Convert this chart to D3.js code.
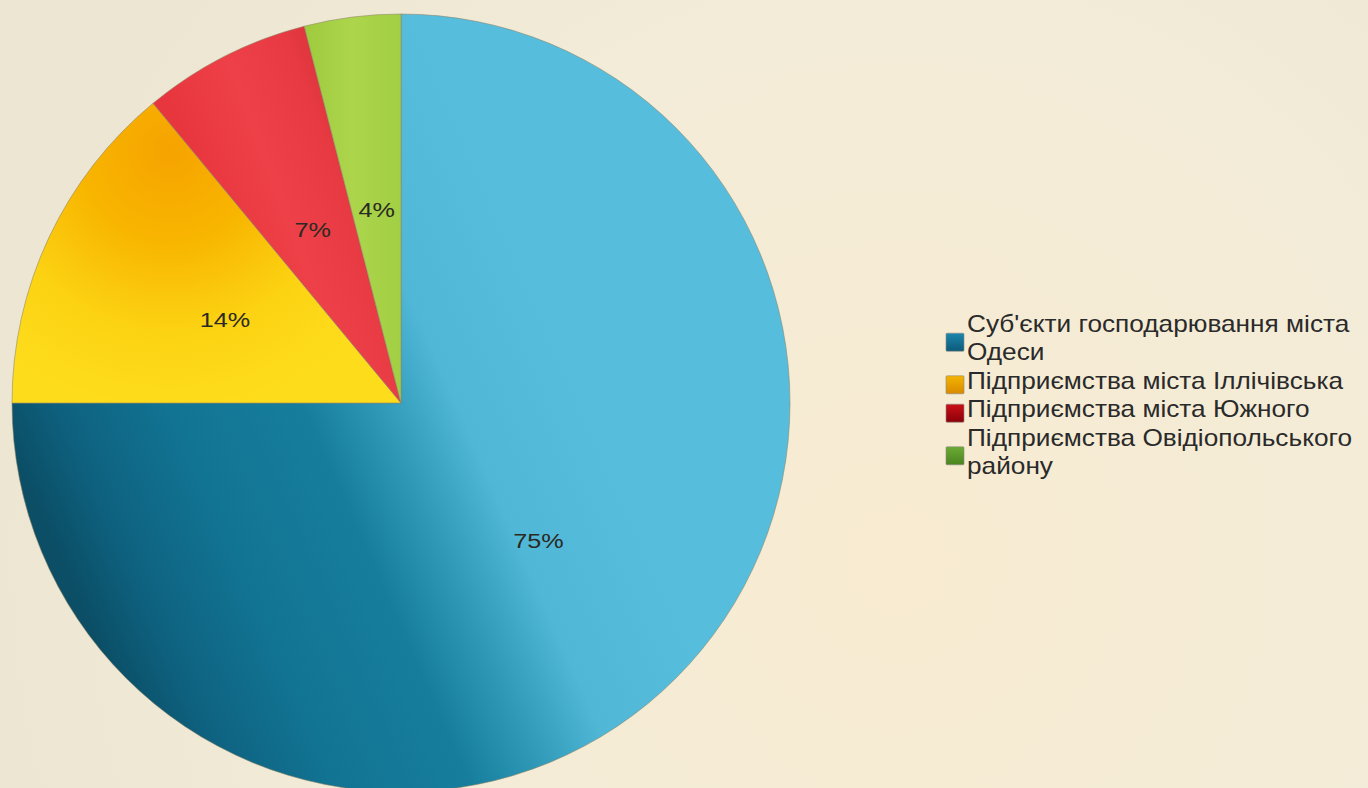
<!DOCTYPE html>
<html>
<head>
<meta charset="utf-8">
<script src="https://cdn.jsdelivr.net/npm/d3@7"></script>
<style>
  html, body { margin: 0; padding: 0; overflow: hidden; }
  body { width: 1368px; height: 788px; }
  svg { display: block; }
</style>
</head>
<body>
<svg id="chart" width="1368" height="788"></svg>
<script>
const categories = [
  "Суб'єкти господарювання міста Одеси",
  "Підприємства міста Іллічівська",
  "Підприємства міста Южного",
  "Підприємства Овідіопольського району"
];
const legendLines = [
  ["Суб'єкти господарювання міста", "Одеси"],
  ["Підприємства міста Іллічівська"],
  ["Підприємства міста Южного"],
  ["Підприємства Овідіопольського", "району"]
];
const values = [75, 14, 7, 4];
const labels = ["75%", "14%", "7%", "4%"];

const svg = d3.select("#chart");
const W = 1368, H = 788;
const defs = svg.append("defs");

// background
const bg = defs.append("radialGradient").attr("id", "bg")
  .attr("gradientUnits", "userSpaceOnUse")
  .attr("cx", 900).attr("cy", 560).attr("r", 900);
bg.append("stop").attr("offset", 0).attr("stop-color", "#f8ebd1");
bg.append("stop").attr("offset", 0.6).attr("stop-color", "#f3ecd8");
bg.append("stop").attr("offset", 1).attr("stop-color", "#ede6d2");
svg.append("rect").attr("width", W).attr("height", H).attr("fill", "url(#bg)");

const cx = 401, cy = 403, R = 389;

// slice gradients (user space, relative to pie center group)
const gBlue = defs.append("linearGradient").attr("id", "g0")
  .attr("gradientUnits", "userSpaceOnUse")
  .attr("x1", 560 - cx).attr("y1", 340 - cy).attr("x2", 60 - cx).attr("y2", 560 - cy);
[[0, "#56bddd"], [0.22, "#50b7d7"], [0.36, "#2d97b5"], [0.48, "#167e9c"],
 [0.7, "#127493"], [0.88, "#0e6280"], [1, "#0b4e66"]]
  .forEach(([o, c]) => gBlue.append("stop").attr("offset", o).attr("stop-color", c));

const gYel = defs.append("radialGradient").attr("id", "g1")
  .attr("gradientUnits", "userSpaceOnUse")
  .attr("cx", 170 - cx).attr("cy", 150 - cy).attr("r", 260);
[[0, "#f6a300"], [0.35, "#f8b500"], [0.7, "#fcd313"], [1, "#fddc1c"]]
  .forEach(([o, c]) => gYel.append("stop").attr("offset", o).attr("stop-color", c));

const gRed = defs.append("linearGradient").attr("id", "g2")
  .attr("gradientUnits", "userSpaceOnUse")
  .attr("x1", 170 - cx).attr("y1", 100 - cy).attr("x2", 330 - cx).attr("y2", 40 - cy);
[[0, "#e8363e"], [0.4, "#ee4048"], [0.75, "#e83a42"], [1, "#d8323a"]]
  .forEach(([o, c]) => gRed.append("stop").attr("offset", o).attr("stop-color", c));

const gGrn = defs.append("linearGradient").attr("id", "g3")
  .attr("gradientUnits", "userSpaceOnUse")
  .attr("x1", 305 - cx).attr("y1", 0).attr("x2", 400 - cx).attr("y2", 0);
[[0, "#9fcb3e"], [0.5, "#acd54c"], [1, "#a2cf44"]]
  .forEach(([o, c]) => gGrn.append("stop").attr("offset", o).attr("stop-color", c));

const pie = d3.pie().sort(null).value(d => d);
const arcs = pie(values);
const arc = d3.arc().innerRadius(0).outerRadius(R);

const g = svg.append("g").attr("transform", `translate(${cx},${cy})`);
g.selectAll("path.slice").data(arcs).enter().append("path")
  .attr("class", "slice")
  .attr("d", arc)
  .attr("fill", (d, i) => `url(#g${i})`)
  .attr("stroke", "#8c8566")
  .attr("stroke-width", 0.8)
  .attr("stroke-opacity", 0.7);

// labels at the arc centroid
g.selectAll("text.lbl").data(arcs).enter().append("text")
  .attr("class", "lbl")
  .attr("transform", d => {
    const c = arc.centroid(d);
    return `translate(${c[0]},${c[1]}) scale(1.2,1)`;
  })
  .attr("text-anchor", "middle")
  .attr("dominant-baseline", "central")
  .attr("font-family", "Liberation Sans, Arial, sans-serif")
  .attr("font-size", 21)
  .attr("fill", "#2a2a22")
  .text((d, i) => labels[i]);

// legend
const swatch = ["#1d86ad", "#f5b400", "#cc1018", "#6cab34"];
const swatchDark = ["#0c5a7a", "#d88a00", "#8a0008", "#4a8420"];
const lineH = 28.4;
const legendX = 967, legendTop = 324, sw = 18;
const lg = svg.append("g");
let row = 0;
legendLines.forEach((lines, i) => {
  const y0 = legendTop + row * lineH;
  const midY = y0 + (lines.length - 1) * lineH / 2;
  const sg = defs.append("linearGradient").attr("id", "sw" + i)
    .attr("x1", 0).attr("y1", 0).attr("x2", 0).attr("y2", 1);
  sg.append("stop").attr("offset", 0).attr("stop-color", swatch[i]);
  sg.append("stop").attr("offset", 1).attr("stop-color", swatchDark[i]);
  lg.append("rect")
    .attr("x", 946).attr("y", midY + 4 - sw / 2)
    .attr("width", sw).attr("height", sw)
    .attr("rx", 1)
    .attr("fill", `url(#sw${i})`)
    .attr("stroke", "#8a8a80").attr("stroke-width", 0.6);
  lines.forEach((t, k) => {
    lg.append("text")
      .attr("transform", `translate(${legendX},${y0 + k * lineH}) scale(1.14,1)`)
      .attr("dominant-baseline", "central")
      .attr("font-family", "Liberation Sans, Arial, sans-serif")
      .attr("font-size", 23)
      .attr("fill", "#2a2a2a")
      .text(t);
  });
  row += lines.length;
});
</script>
</body>
</html>
